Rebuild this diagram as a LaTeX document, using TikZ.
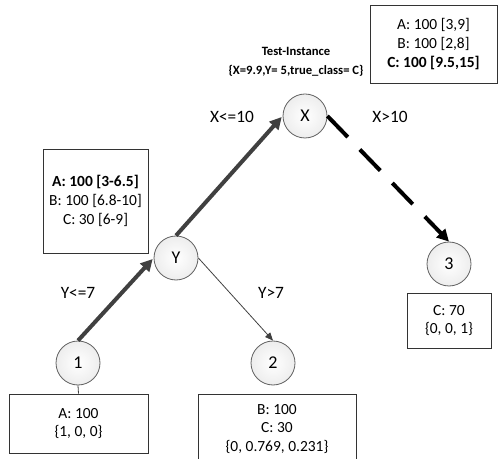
\documentclass[tikz,border=0pt]{standalone}
\usepackage{fontspec}
\setmainfont{Carlito}
\usetikzlibrary{arrows.meta}
\definecolor{edgegray}{HTML}{404040}
\definecolor{rimgray}{HTML}{606060}
\begin{document}
\begin{tikzpicture}[x=0.75pt,y=-0.75pt,
  treenode/.style={circle,draw=rimgray,line width=0.6pt,minimum size=33pt,inner sep=0pt,
    inner color=white,outer color=gray!14,font=\fontsize{13.5}{16}\selectfont},
  infobox/.style={draw=black!80,line width=0.6pt,inner sep=0pt,align=center,
    font=\fontsize{11.6}{14}\selectfont},
  edgelabel/.style={font=\fontsize{13}{15}\selectfont},
  takenedge/.style={draw=edgegray,line width=3pt,-{Triangle[length=9pt,width=9pt]},shorten >=1pt},
  sideedge/.style={draw=edgegray,line width=0.6pt,-{Triangle[length=6pt,width=5pt]}},
  testedge/.style={draw=black,line width=3pt,dash pattern=on 22pt off 13pt,
    -{Triangle[length=9pt,width=9pt]}}]
\useasboundingbox (0,0) rectangle (499,459);

% tree nodes
\node[treenode] (x) at (305,116) {X};
\node[treenode] (y) at (176,258) {Y};
\node[treenode] (n1) at (78,363) {1};
\node[treenode] (n2) at (273,363) {2};
\node[treenode] (n3) at (449,264) {3};

% class distributions
\node[infobox,minimum width=95.25pt,minimum height=58.5pt] (bx) at (433.5,44)
  {A: 100 [3,9]\\B: 100 [2,8]\\\textbf{C: 100 [9.5,15]}};
\node[infobox,minimum width=78.75pt,minimum height=78pt] (by) at (95.5,201)
  {\textbf{A: 100 [3-6.5]}\\B: 100 [6.8-10]\\C: 30 [6-9]};
\node[infobox,minimum width=104.25pt,minimum height=44.25pt] (b1) at (78.5,423.5)
  {A: 100\\\{1, 0, 0\}};
\node[infobox,minimum width=118.5pt,minimum height=52.5pt] (b2) at (277,429)
  {B: 100\\C: 30\\\{0, 0.769, 0.231\}};
\node[infobox,minimum width=63pt,minimum height=41.25pt] (b3) at (449,320.5)
  {C: 70\\\{0, 0, 1\}};

% test instance
\node[align=center,font=\bfseries\fontsize{9.5}{14}\selectfont] (ti) at (296,62)
  {Test-Instance\\\{X=9.9,Y= 5,true\_class= C\}};

% branch labels
\node[edgelabel] (lx1) at (232,117) {X<=10};
\node[edgelabel] (lx2) at (390,117) {X>10};
\node[edgelabel] (ly1) at (78,293) {Y<=7};
\node[edgelabel] (ly2) at (271,293) {Y>7};

% connectors
\draw[takenedge] (n1.north) -- (y.west);
\draw[takenedge] (y.north) -- (x.west);
\draw[sideedge] (y.east) -- (n2.north);
\draw[testedge] (x.east) -- (n3.north);
\draw[edgegray,line width=0.6pt] (n1.south) -- (b1.north);
\end{tikzpicture}
\end{document}
